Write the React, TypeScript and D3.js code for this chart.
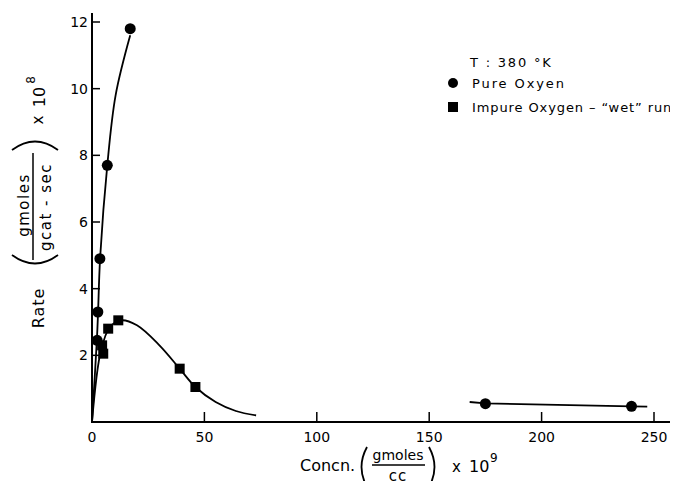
import React from "react";
import * as d3 from "d3";

// ---- data ----
// Pure oxygen measured points (concn x1e9, rate x1e8)
const pureX = [2.3, 2.6, 3.5, 6.8, 17.0, 175, 240];
const pureY = [2.45, 3.3, 4.9, 7.7, 11.8, 0.55, 0.47];
// Impure oxygen ("wet" run) measured points
const impureX = [4.5, 5.0, 7.2, 11.7, 39.0, 46.0];
const impureY = [2.3, 2.05, 2.8, 3.05, 1.6, 1.05];
// Hand-drawn fit curves
const pureFitX = [0, 2.2, 2.7, 3.6, 6.8, 10.5, 17.0];
const pureFitY = [0, 2.5, 3.3, 4.9, 7.7, 9.8, 11.6];
const pureTailX = [168, 175, 240, 247];
const pureTailY = [0.6, 0.56, 0.47, 0.46];
const impureFitX = [0, 4.0, 8.0, 13.0, 20.0, 30.0, 39.0, 46.0, 55.0, 64.0, 73.0];
const impureFitY = [0, 2.15, 2.85, 3.05, 2.9, 2.3, 1.6, 1.05, 0.6, 0.33, 0.2];
// Axis ticks
const xTicks = [0, 50, 100, 150, 200, 250];
const yTicks = [2, 4, 6, 8, 10, 12];

const W = 678;
const H = 489;
const FONT = "'DejaVu Sans', sans-serif";

export default function App() {
  const x = d3.scaleLinear().domain([0, 250]).range([92, 654]);
  const y = d3.scaleLinear().domain([0, 12]).range([422, 22]);

  const zip = (xs: number[], ys: number[]) => xs.map((v, i) => [v, ys[i]] as [number, number]);
  const line = d3
    .line<[number, number]>()
    .x((d) => x(d[0]))
    .y((d) => y(d[1]))
    .curve(d3.curveCatmullRom.alpha(0.5));
  const straight = d3
    .line<[number, number]>()
    .x((d) => x(d[0]))
    .y((d) => y(d[1]));

  const pure = zip(pureX, pureY);
  const impure = zip(impureX, impureY);

  return (
    <div style={{ margin: -8 }}>
      <svg width={W} height={H} style={{ display: "block", background: "#fff" }} fontFamily={FONT}>
        {/* axes */}
        <line x1={x(0)} y1={13} x2={x(0)} y2={y(0)} stroke="#000" strokeWidth={2} />
        <line x1={x(0) - 1} y1={y(0)} x2={W} y2={y(0)} stroke="#000" strokeWidth={2} />
        {xTicks.map((t) => (
          <g key={"xt" + t}>
            {t !== 0 && <line x1={x(t)} x2={x(t)} y1={y(0)} y2={y(0) - 10} stroke="#000" strokeWidth={1.5} />}
            <text x={x(t)} y={442} textAnchor="middle" fontSize={14}>
              {t}
            </text>
          </g>
        ))}
        {yTicks.map((t) => (
          <g key={"yt" + t}>
            <line x1={x(0)} x2={x(0) + 8} y1={y(t)} y2={y(t)} stroke="#000" strokeWidth={1.5} />
            <text x={88} y={y(t) + 5} textAnchor="end" fontSize={14}>
              {t}
            </text>
          </g>
        ))}

        {/* curves */}
        <path d={line(zip(pureFitX, pureFitY)) || ""} fill="none" stroke="#000" strokeWidth={1.8} />
        <path d={straight(zip(pureTailX, pureTailY)) || ""} fill="none" stroke="#000" strokeWidth={1.8} />
        <path d={line(zip(impureFitX, impureFitY)) || ""} fill="none" stroke="#000" strokeWidth={1.8} />

        {/* markers */}
        {pure.map((d, i) => (
          <circle key={"p" + i} cx={x(d[0])} cy={y(d[1])} r={5.5} fill="#000" />
        ))}
        {impure.map((d, i) => (
          <rect key={"q" + i} x={x(d[0]) - 5} y={y(d[1]) - 5} width={10} height={10} fill="#000" />
        ))}

        {/* legend */}
        <text x={470} y={67} fontSize={13} letterSpacing={1.8}>
          T : 380 °K
        </text>
        <circle cx={453} cy={83} r={5} fill="#000" />
        <text x={472} y={88} fontSize={13} letterSpacing={1.9}>
          Pure Oxyen
        </text>
        <rect x={448} y={102} width={10} height={10} fill="#000" />
        <text x={472} y={112} fontSize={13} letterSpacing={0.9}>
          Impure Oxygen – “wet” run
        </text>

        {/* y-axis label */}
        <text transform="translate(44,308) rotate(-90)" textAnchor="middle" fontSize={16} letterSpacing={1}>
          Rate
        </text>
        <path d="M 12,255 Q 35,272 58,255" fill="none" stroke="#000" strokeWidth={1.8} />
        <path d="M 12,150 Q 35,133 58,150" fill="none" stroke="#000" strokeWidth={1.8} />
        <line x1={33} x2={33} y1={153} y2={260} stroke="#000" strokeWidth={1.5} />
        <text transform="translate(29,205) rotate(-90)" textAnchor="middle" fontSize={15} letterSpacing={1.5}>
          gmoles
        </text>
        <text transform="translate(51,207) rotate(-90)" textAnchor="middle" fontSize={15} letterSpacing={1.5}>
          gcat - sec
        </text>
        <text transform="translate(43,120) rotate(-90)" textAnchor="middle" fontSize={15}>
          x
        </text>
        <text transform="translate(45,97) rotate(-90)" textAnchor="middle" fontSize={16}>
          10
        </text>
        <text transform="translate(35,80) rotate(-90)" textAnchor="middle" fontSize={12}>
          8
        </text>

        {/* x-axis label */}
        <text x={300} y={471} fontSize={16}>
          Concn.
        </text>
        <path d="M 367,447 Q 356,467 367,487" fill="none" stroke="#000" strokeWidth={1.8} />
        <path d="M 429,447 Q 440,467 429,487" fill="none" stroke="#000" strokeWidth={1.8} />
        <line x1={372} x2={425} y1={465} y2={465} stroke="#000" strokeWidth={1.5} />
        <text x={398} y={460} textAnchor="middle" fontSize={14}>
          gmoles
        </text>
        <text x={398} y={481} textAnchor="middle" fontSize={15} letterSpacing={1}>
          cc
        </text>
        <text x={452} y={472} fontSize={15}>
          x
        </text>
        <text x={469} y={472} fontSize={16}>
          10
        </text>
        <text x={490} y={462} fontSize={12}>
          9
        </text>
      </svg>
    </div>
  );
}
